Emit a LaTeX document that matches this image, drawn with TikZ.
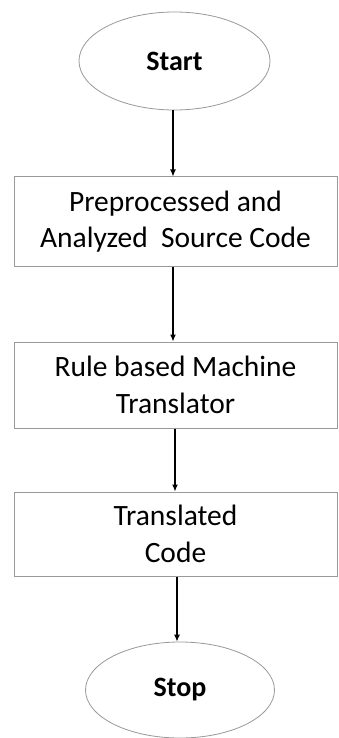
\documentclass[tikz,border=0pt]{standalone}
\usepackage{fontspec}
\setmainfont{Carlito}
\usetikzlibrary{shapes.geometric,arrows.meta}
\begin{document}
\begin{tikzpicture}[x=1pt,y=-1pt,
  term/.style={ellipse,draw=black!40,line width=0.8pt,inner sep=0pt,font=\bfseries\fontsize{28}{32}\selectfont},
  procbox/.style={rectangle,draw=black!40,line width=1pt,minimum width=323pt,minimum height=89pt,inner sep=0pt,align=center,font=\fontsize{29.5}{36.5}\selectfont},
  arr/.style={-{Latex[length=7pt,width=6pt]},line width=1.2pt,black}]
\useasboundingbox[fill=white] (0,0) rectangle (338,738);
\node[term,minimum width=191pt,minimum height=98pt] (start) at (174.5,61) {Start};
\node[procbox] (b1) at (175.5,221.5) {Preprocessed and\\Analyzed\ \ Source Code};
\node[procbox,minimum height=86pt] (b2) at (175.5,385) {Rule based Machine\\Translator};
\node[procbox,minimum height=84pt] (b3) at (175.5,534) {Translated\\Code};
\node[term,minimum width=189pt,minimum height=96pt] (stop) at (180,690) {Stop};
\draw[arr] ([xshift=-1.5pt]start.south) -- ([xshift=-1.5pt]start.south |- b1.north);
\draw[arr] ([xshift=-2.5pt]b1.south) -- ([xshift=-2.5pt]b1.south |- b2.north);
\draw[arr] ([xshift=-0.5pt]b2.south) -- ([xshift=-0.5pt]b2.south |- b3.north);
\draw[arr] ([xshift=1.5pt]b3.south) -- ([xshift=1.5pt]b3.south |- stop.north);
\end{tikzpicture}
\end{document}
